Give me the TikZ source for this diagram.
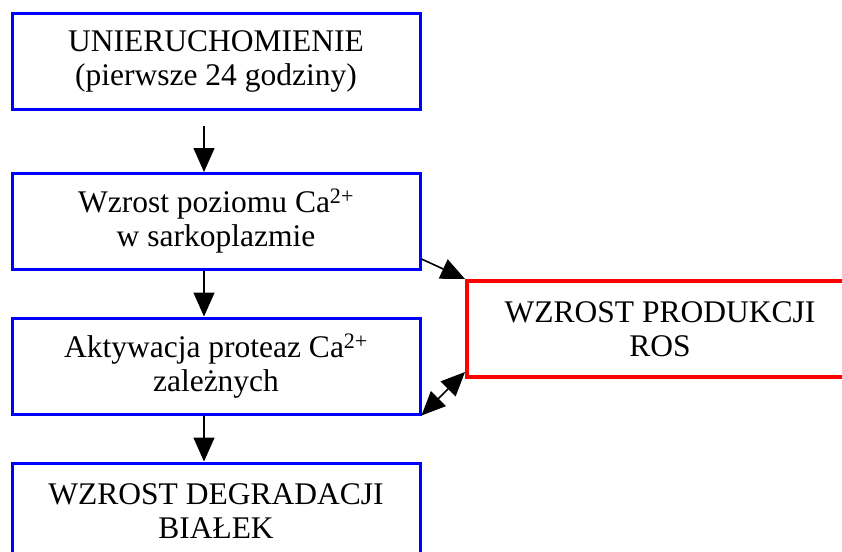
\documentclass[tikz,border=0pt]{standalone}
\usepackage{fontspec}
\setmainfont{Liberation Serif}
\usetikzlibrary{arrows.meta}

\begin{document}
\begin{tikzpicture}[x=1pt, y=-1pt,
    stufe/.style={draw=blue, line width=3pt, inner sep=0pt, align=center,
        minimum width=408pt, minimum height=96pt,
        font=\fontsize{31.5}{34}\selectfont},
    rosbox/.style={draw=red, line width=4pt, inner sep=0pt, align=center,
        minimum width=386pt, minimum height=96pt,
        font=\fontsize{31.5}{34}\selectfont},
    pfeil/.style={line width=1.6pt, -{Triangle[length=24pt, width=21pt]}},
    dpfeil/.style={line width=1.6pt, {Triangle[length=24pt, width=21pt]}-{Triangle[length=24pt, width=21pt]}}]
    \useasboundingbox (0,0) rectangle (842,551);
    \clip (0,0) rectangle (842,551);
    % Kette links
    \node[stufe] (unier) at (216,61.5) {UNIERUCHOMIENIE\\(pierwsze 24 godziny)};
    \node[stufe] (poziom) at (216,221.5) {Wzrost poziomu Ca\textsuperscript{2+}\\w sarkoplazmie};
    \node[stufe] (prot) at (216,366) {Aktywacja proteaz Ca\textsuperscript{2+}\\zależnych};
    \node[stufe] (degr) at (216,511) {WZROST DEGRADACJI\\BIAŁEK};
    % ROS
    \node[rosbox] (ros) at (660,329) {WZROST PRODUKCJI\\ROS};
    % Pfeile
    \draw[pfeil, shorten <=15pt] ([xshift=-12pt]unier.south) -- ([xshift=-12pt]poziom.north);
    \draw[pfeil] ([xshift=-12pt]poziom.south) -- ([xshift=-12pt]prot.north);
    \draw[pfeil] ([xshift=-12pt]prot.south) -- ([xshift=-12pt]degr.north);
    \draw[pfeil] ([yshift=12pt]poziom.south east) -- (ros.north west);
    \draw[dpfeil] (prot.south east) -- ([yshift=7pt]ros.south west);
\end{tikzpicture}
\end{document}
